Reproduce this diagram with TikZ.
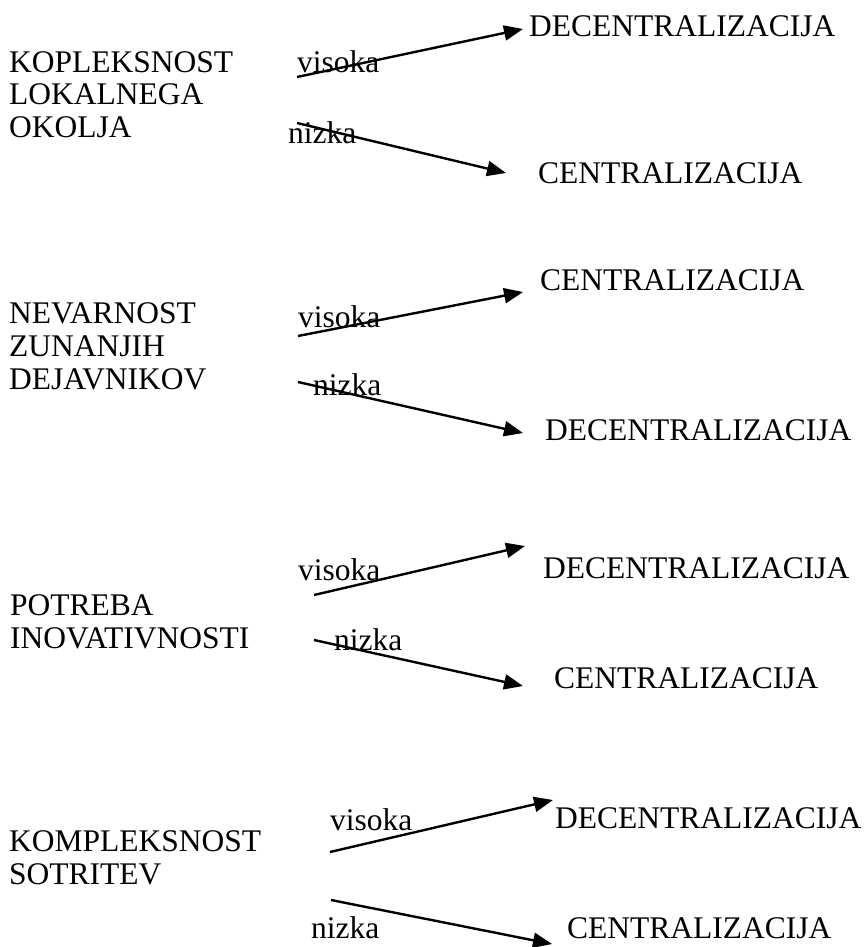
\documentclass[tikz,border=0pt]{standalone}
\usepackage{fontspec}
\setmainfont{Liberation Serif}
\usetikzlibrary{arrows.meta}
\begin{document}
\begin{tikzpicture}[x=1pt,y=-1pt,
  lab/.style={inner sep=0pt, anchor=base west, align=left,
    font=\fontsize{31.5}{33}\selectfont},
  arr/.style={line width=2.4pt, -{Triangle[length=19pt,width=15pt]}}]
\path[use as bounding box] (0,0) rectangle (864,947);

% Multi-line factor labels are placed by the baseline of their last line.

% --- Kompleksnost lokalnega okolja
\node[lab] (f1) at (9,138) {KOPLEKSNOST\\LOKALNEGA\\OKOLJA};
\node[lab] (f1hi) at (297,73) {visoka};
\node[lab] (f1lo) at (288,143) {nizka};
\node[lab] (r1hi) at (529,37) {DECENTRALIZACIJA};
\node[lab] (r1lo) at (538,183) {CENTRALIZACIJA};
\coordinate (s1hi) at (297,77);
\coordinate (t1hi) at (523,29);
\coordinate (s1lo) at (297,123);
\coordinate (t1lo) at (506,173);
\draw[arr] (s1hi) -- (t1hi);
\draw[arr] (s1lo) -- (t1lo);

% --- Nevarnost zunanjih dejavnikov
\node[lab] (f2) at (9,389) {NEVARNOST\\ZUNANJIH\\DEJAVNIKOV};
\node[lab] (f2hi) at (298,327) {visoka};
\node[lab] (f2lo) at (313,395) {nizka};
\node[lab] (r2hi) at (540,290) {CENTRALIZACIJA};
\node[lab] (r2lo) at (545,440) {DECENTRALIZACIJA};
\coordinate (s2hi) at (298,336);
\coordinate (t2hi) at (523,292);
\coordinate (s2lo) at (298,382);
\coordinate (t2lo) at (523,433);
\draw[arr] (s2hi) -- (t2hi);
\draw[arr] (s2lo) -- (t2lo);

% --- Potreba inovativnosti
\node[lab] (f3) at (10,648) {POTREBA\\INOVATIVNOSTI};
\node[lab] (f3hi) at (298,580) {visoka};
\node[lab] (f3lo) at (334,650) {nizka};
\node[lab] (r3hi) at (543,578) {DECENTRALIZACIJA};
\node[lab] (r3lo) at (554,688) {CENTRALIZACIJA};
\coordinate (s3hi) at (314,595);
\coordinate (t3hi) at (525,546);
\coordinate (s3lo) at (314,640);
\coordinate (t3lo) at (523,686);
\draw[arr] (s3hi) -- (t3hi);
\draw[arr] (s3lo) -- (t3lo);

% --- Kompleksnost sotritev
\node[lab] (f4) at (9,884) {KOMPLEKSNOST\\SOTRITEV};
\node[lab] (f4hi) at (330,830) {visoka};
\node[lab] (f4lo) at (311,938) {nizka};
\node[lab] (r4hi) at (555,828) {DECENTRALIZACIJA};
\node[lab] (r4lo) at (567,938) {CENTRALIZACIJA};
\coordinate (s4hi) at (330,852);
\coordinate (t4hi) at (553,800);
\coordinate (s4lo) at (331,900);
\coordinate (t4lo) at (552,944);
\draw[arr] (s4hi) -- (t4hi);
\draw[arr] (s4lo) -- (t4lo);
\end{tikzpicture}
\end{document}
